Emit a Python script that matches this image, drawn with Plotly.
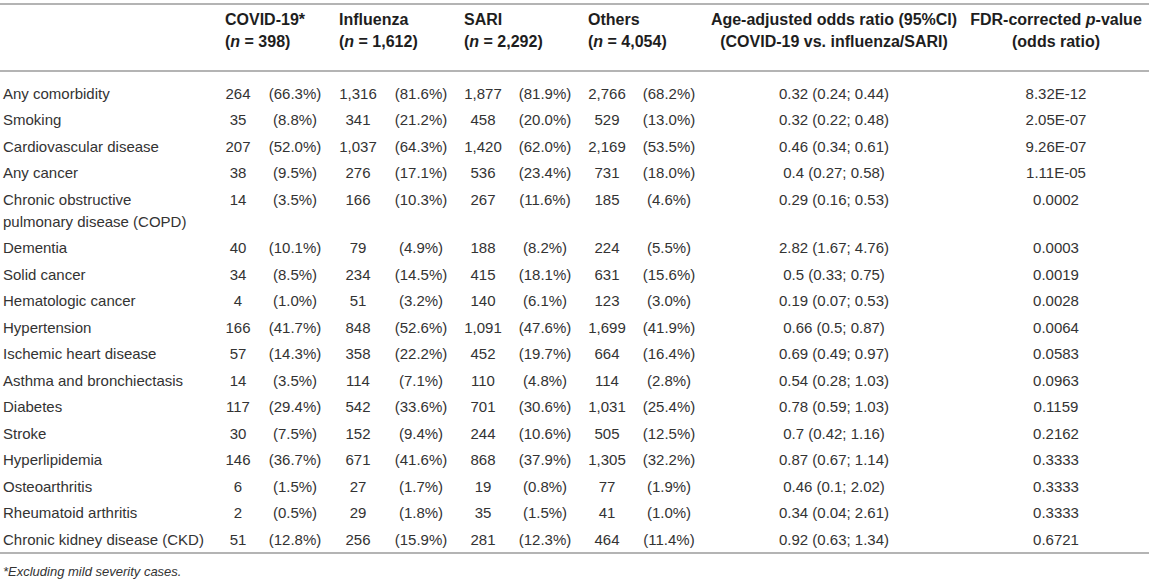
import plotly.graph_objects as go

# table content
labels = [
    "Any comorbidity", "Smoking", "Cardiovascular disease", "Any cancer",
    "Chronic obstructive\npulmonary disease (COPD)", "Dementia", "Solid cancer",
    "Hematologic cancer", "Hypertension", "Ischemic heart disease",
    "Asthma and bronchiectasis", "Diabetes", "Stroke", "Hyperlipidemia",
    "Osteoarthritis", "Rheumatoid arthritis", "Chronic kidney disease (CKD)",
]
group_names = ["COVID-19*", "Influenza", "SARI", "Others"]
group_totals = [398, 1612, 2292, 4054]

covid_n = [264, 35, 207, 38, 14, 40, 34, 4, 166, 57, 14, 117, 30, 146, 6, 2, 51]
covid_pct = [66.3, 8.8, 52.0, 9.5, 3.5, 10.1, 8.5, 1.0, 41.7, 14.3, 3.5, 29.4, 7.5, 36.7, 1.5, 0.5, 12.8]
flu_n = [1316, 341, 1037, 276, 166, 79, 234, 51, 848, 358, 114, 542, 152, 671, 27, 29, 256]
flu_pct = [81.6, 21.2, 64.3, 17.1, 10.3, 4.9, 14.5, 3.2, 52.6, 22.2, 7.1, 33.6, 9.4, 41.6, 1.7, 1.8, 15.9]
sari_n = [1877, 458, 1420, 536, 267, 188, 415, 140, 1091, 452, 110, 701, 244, 868, 19, 35, 281]
sari_pct = [81.9, 20.0, 62.0, 23.4, 11.6, 8.2, 18.1, 6.1, 47.6, 19.7, 4.8, 30.6, 10.6, 37.9, 0.8, 1.5, 12.3]
other_n = [2766, 529, 2169, 731, 185, 224, 631, 123, 1699, 664, 114, 1031, 505, 1305, 77, 41, 464]
other_pct = [68.2, 13.0, 53.5, 18.0, 4.6, 5.5, 15.6, 3.0, 41.9, 16.4, 2.8, 25.4, 12.5, 32.2, 1.9, 1.0, 11.4]

odds_ratio = [0.32, 0.32, 0.46, 0.4, 0.29, 2.82, 0.5, 0.19, 0.66, 0.69, 0.54, 0.78, 0.7, 0.87, 0.46, 0.34, 0.92]
ci_low = [0.24, 0.22, 0.34, 0.27, 0.16, 1.67, 0.33, 0.07, 0.5, 0.49, 0.28, 0.59, 0.42, 0.67, 0.1, 0.04, 0.63]
ci_high = [0.44, 0.48, 0.61, 0.58, 0.53, 4.76, 0.75, 0.53, 0.87, 0.97, 1.03, 1.03, 1.16, 1.14, 2.02, 2.61, 1.34]
p_values = ["8.32E-12", "2.05E-07", "9.26E-07", "1.11E-05", "0.0002", "0.0003", "0.0019",
            "0.0028", "0.0064", "0.0583", "0.0963", "0.1159", "0.2162", "0.3333",
            "0.3333", "0.3333", "0.6721"]

footnote = "*Excluding mild severity cases."

# layout (pixels)
W, H = 1149, 588
FONT = "Liberation Sans, Arial, Helvetica, sans-serif"
TXT = "#333333"
HDR = "#1e1e1e"
RULE = "#b4b4b4"
data_size = 15
head_size = 16

label_x = 3
count_x = [238, 358, 483, 607]
pct_x = [295, 421, 545, 669]
head_x = [225, 339, 464, 588]
or_x = 834
p_x = 1056

first_row = 95
row_step = 26.5
extra_line = 22

# row centres
row_y = []
label_y_list, label_txt = [], []
y = first_row
for lab in labels:
    row_y.append(y)
    parts = lab.split("\n")
    for k, part in enumerate(parts):
        label_y_list.append(y + k * extra_line)
        label_txt.append(part)
    y += row_step + (len(parts) - 1) * extra_line

fig = go.Figure()


def text_col(x, ys, texts, pos="middle center", size=data_size, color=TXT):
    fig.add_trace(go.Scatter(
        x=[x] * len(ys), y=ys, text=texts, mode="text",
        textposition=pos,
        textfont=dict(family=FONT, size=size, color=color),
        hoverinfo="skip", showlegend=False,
    ))


# labels
text_col(label_x, label_y_list, label_txt, pos="middle right")

# group columns
counts = [covid_n, flu_n, sari_n, other_n]
pcts = [covid_pct, flu_pct, sari_pct, other_pct]
for g in range(4):
    text_col(count_x[g], row_y, [f"{v:,}" for v in counts[g]])
    text_col(pct_x[g], row_y, [f"({v:.1f}%)" for v in pcts[g]])
    text_col(head_x[g], [21, 43],
             [f"<b>{group_names[g]}</b>", f"<b>(<i>n</i> = {group_totals[g]:,})</b>"],
             pos="middle right", size=head_size, color=HDR)

# odds ratio + p value
text_col(or_x, row_y, [f"{o} ({l}; {h})" for o, l, h in zip(odds_ratio, ci_low, ci_high)])
text_col(p_x, row_y, p_values)
text_col(or_x, [21, 43], ["<b>Age-adjusted odds ratio (95%CI)</b>",
                          "<b>(COVID-19 vs. influenza/SARI)</b>"], size=head_size, color=HDR)
text_col(p_x, [21, 43], ["<b>FDR-corrected <i>p</i>-value</b>", "<b>(odds ratio)</b>"],
         size=head_size, color=HDR)

# footnote
text_col(label_x, [573], [f"<i>{footnote}</i>"], pos="middle right", size=13)

# rules
for yy in [4, 71, 553]:
    fig.add_shape(type="line", x0=0, x1=W, y0=yy, y1=yy, xref="x", yref="y",
                  line=dict(color=RULE, width=2))

fig.update_layout(
    width=W, height=H,
    margin=dict(l=0, r=0, t=0, b=0),
    paper_bgcolor="white", plot_bgcolor="white",
    xaxis=dict(range=[0, W], visible=False, fixedrange=True),
    yaxis=dict(range=[H, 0], visible=False, fixedrange=True),
)

fig.write_html("out.html", config={"displayModeBar": False},
               post_script="document.body.style.margin='0';")
